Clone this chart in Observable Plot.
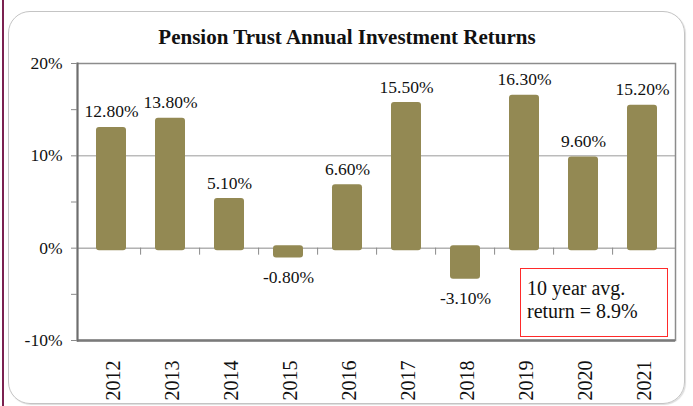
<!DOCTYPE html>
<html><head><meta charset="utf-8">
<script src="https://cdn.jsdelivr.net/npm/d3@7"></script>
<script src="https://cdn.jsdelivr.net/npm/@observablehq/plot@0.6"></script>
<style>
body{margin:0;background:#fff;}
#wrap{position:relative;width:693px;height:406px;overflow:hidden;font-family:"Liberation Serif","Times New Roman",serif;}
#leftbar{position:absolute;left:2px;top:0;width:2px;height:406px;background:#7b2150;}
#frame{position:absolute;left:8px;top:11px;width:677px;height:393px;border:1px solid #c4c4c4;border-radius:22px;box-sizing:border-box;box-shadow:1px 1px 1px #ddd;}
#chart{position:absolute;left:0;top:0;}
#chart svg, #chart svg text{font-family:"Liberation Serif","Times New Roman",serif !important;}
#note{position:absolute;left:520px;top:268px;width:148px;height:69px;box-sizing:border-box;border:1.5px solid #ff2a2a;background:#fff;padding:8px 0 0 6px;font-size:20px;line-height:23px;color:#111;}
</style></head><body>
<div id="wrap"><div id="leftbar"></div><div id="frame"></div><div id="chart"></div><div id="note"></div></div>
<script>
const years = ["2012","2013","2014","2015","2016","2017","2018","2019","2020","2021"];
const returns = [12.8, 13.8, 5.1, -0.8, 6.6, 15.5, -3.1, 16.3, 9.6, 15.2];
const yTicks = [-10, -5, 0, 5, 10, 15, 20];
const yLabeled = [-10, 0, 10, 20];
const gridValues = [10];
const title = "Pension Trust Annual Investment Returns";
const noteLines = ["10 year avg.", "return = 8.9%"];

const data = years.map((y, i) => ({year: y, value: returns[i], label: returns[i].toFixed(2) + "%"}));

const W = 693, H = 406, mL = 77, mR = 18, mT = 63, mB = 66;
const step = (W - mL - mR) / years.length;
const font = "'Liberation Serif', 'Times New Roman', serif";
const barColor = "#938953";

const chart = Plot.plot({
  width: W, height: H,
  marginLeft: mL, marginRight: mR, marginTop: mT, marginBottom: mB,
  style: {fontFamily: font, color: "#111", background: "transparent", overflow: "visible"},
  x: {type: "band", domain: years, paddingInner: 0.5, paddingOuter: 0.25, axis: null},
  y: {domain: [-10, 20], axis: null, label: null},
  marks: [
    Plot.ruleY(gridValues, {stroke: "#9a9a9a", strokeWidth: 1}),
    Plot.ruleY([0], {stroke: "#8a8a8a", strokeWidth: 1}),
    Plot.frame({stroke: "#8c8c8c", strokeWidth: 1.5}),
    Plot.ruleY([-10], {stroke: "#7a7a7a", strokeWidth: 2.5}),
    Plot.frame({anchor: "left", stroke: "#6e6e6e", strokeWidth: 2}),
    Plot.ruleX(years.slice(1), {x: d => d, y1: 0, y2: 0, dx: -step / 2, insetBottom: -7, stroke: "#8a8a8a"}),
    Plot.axisY(yTicks, {tickSize: 6, tickPadding: 9, stroke: "#8a8a8a", fontSize: 17.5, label: null,
      tickFormat: d => yLabeled.includes(d) ? d + "%" : "", fill: "#111", fontFamily: font}),
    Plot.barY(data, {x: "year", y: "value", fill: barColor, rx: 3, insetTop: -2.5, insetBottom: -2.5}),
    Plot.text(data.filter(d => d.value >= 0), {x: "year", y: "value", text: "label", lineAnchor: "bottom", dy: -12.5, fontSize: 17.5, fill: "#111", fontFamily: font}),
    Plot.text(data.filter(d => d.value < 0), {x: "year", y: "value", text: "label", lineAnchor: "bottom", dy: 27.5, fontSize: 17.5, fill: "#111", fontFamily: font}),
    Plot.text(years, {x: d => d, frameAnchor: "bottom", dy: 60, dx: 2, rotate: -90, textAnchor: "start", lineAnchor: "middle", fontSize: 20, fill: "#111", fontFamily: font}),
    Plot.text([title], {frameAnchor: "top", dy: -20, dx: W / 2 - (mL + (W - mL - mR) / 2), lineAnchor: "bottom", fontSize: 21, fontWeight: "bold", fill: "#111", fontFamily: font})
  ]
});
document.getElementById("chart").appendChild(chart);
document.getElementById("note").innerHTML = noteLines.join("<br>");
</script>
</body></html>
